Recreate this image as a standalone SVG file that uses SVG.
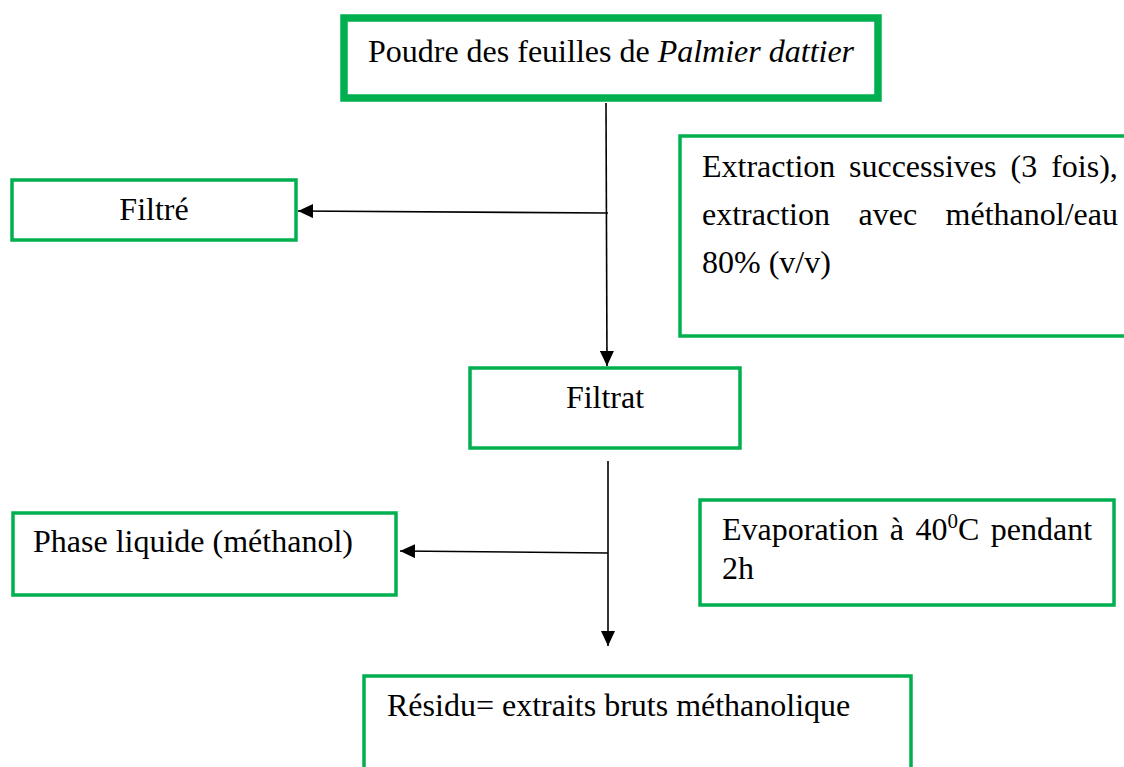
<svg xmlns="http://www.w3.org/2000/svg" width="1124" height="767" viewBox="0 0 1124 767">
<defs>
<style>
.box{fill:#fff;stroke:#00B050;stroke-width:3.5}
.thick{stroke-width:7.5}
.t{font-family:"Liberation Serif","Times New Roman",serif;font-size:32px;fill:#000}
.c{stroke:#000;stroke-width:1.6;fill:none}
</style>
<marker id="ah" markerUnits="userSpaceOnUse" markerWidth="16" markerHeight="14" refX="15" refY="7" orient="auto">
<path d="M0,0 L15,7 L0,14 z" fill="#000"/>
</marker>
</defs>
<rect width="1124" height="767" fill="#fff"/>
<g id="connectors">
<line class="c" x1="606" y1="103" x2="607" y2="366" marker-end="url(#ah)"/>
<line class="c" x1="608" y1="213" x2="298" y2="211" marker-end="url(#ah)"/>
<line class="c" x1="608" y1="461" x2="608" y2="646" marker-end="url(#ah)"/>
<line class="c" x1="608" y1="553" x2="400" y2="551" marker-end="url(#ah)"/>
</g>
<g id="n-poudre">
<rect class="box thick" x="344" y="18" width="534" height="80"/>
<text class="t" x="611" y="62" text-anchor="middle">Poudre des feuilles de <tspan font-style="italic">Palmier dattier</tspan></text>
</g>
<g id="n-extraction">
<rect class="box" x="680" y="136" width="460" height="200"/>
<text class="t" y="177"><tspan x="702">Extraction</tspan><tspan x="849">successives</tspan><tspan x="1010.5">(3</tspan><tspan x="1051.2">fois),</tspan></text>
<text class="t" y="225"><tspan x="702">extraction</tspan><tspan x="858.5">avec</tspan><tspan x="945.6">méthanol/eau</tspan></text>
<text class="t" x="702" y="273">80% (v/v)</text>
</g>
<g id="n-filtre">
<rect class="box" x="12" y="180" width="284" height="60"/>
<text class="t" x="154" y="220" text-anchor="middle">Filtré</text>
</g>
<g id="n-filtrat">
<rect class="box" x="470" y="368" width="270" height="80"/>
<text class="t" x="605" y="408" text-anchor="middle">Filtrat</text>
</g>
<g id="n-phase">
<rect class="box" x="13" y="513" width="383" height="82"/>
<text class="t" x="33" y="552">Phase liquide (méthanol)</text>
</g>
<g id="n-evaporation">
<rect class="box" x="700" y="500" width="414" height="105"/>
<text class="t" y="540"><tspan x="722">Evaporation</tspan><tspan x="889.8">à</tspan><tspan x="915.4">40</tspan><tspan x="947.4" dy="-12" font-size="21">0</tspan><tspan x="958.1" dy="12">C</tspan><tspan x="990.8">pendant</tspan></text>
<text class="t" x="722" y="579">2h</text>
</g>
<g id="n-residu">
<rect class="box" x="364" y="676" width="547" height="120"/>
<text class="t" x="387" y="716">Résidu= extraits bruts méthanolique</text>
</g>
</svg>
